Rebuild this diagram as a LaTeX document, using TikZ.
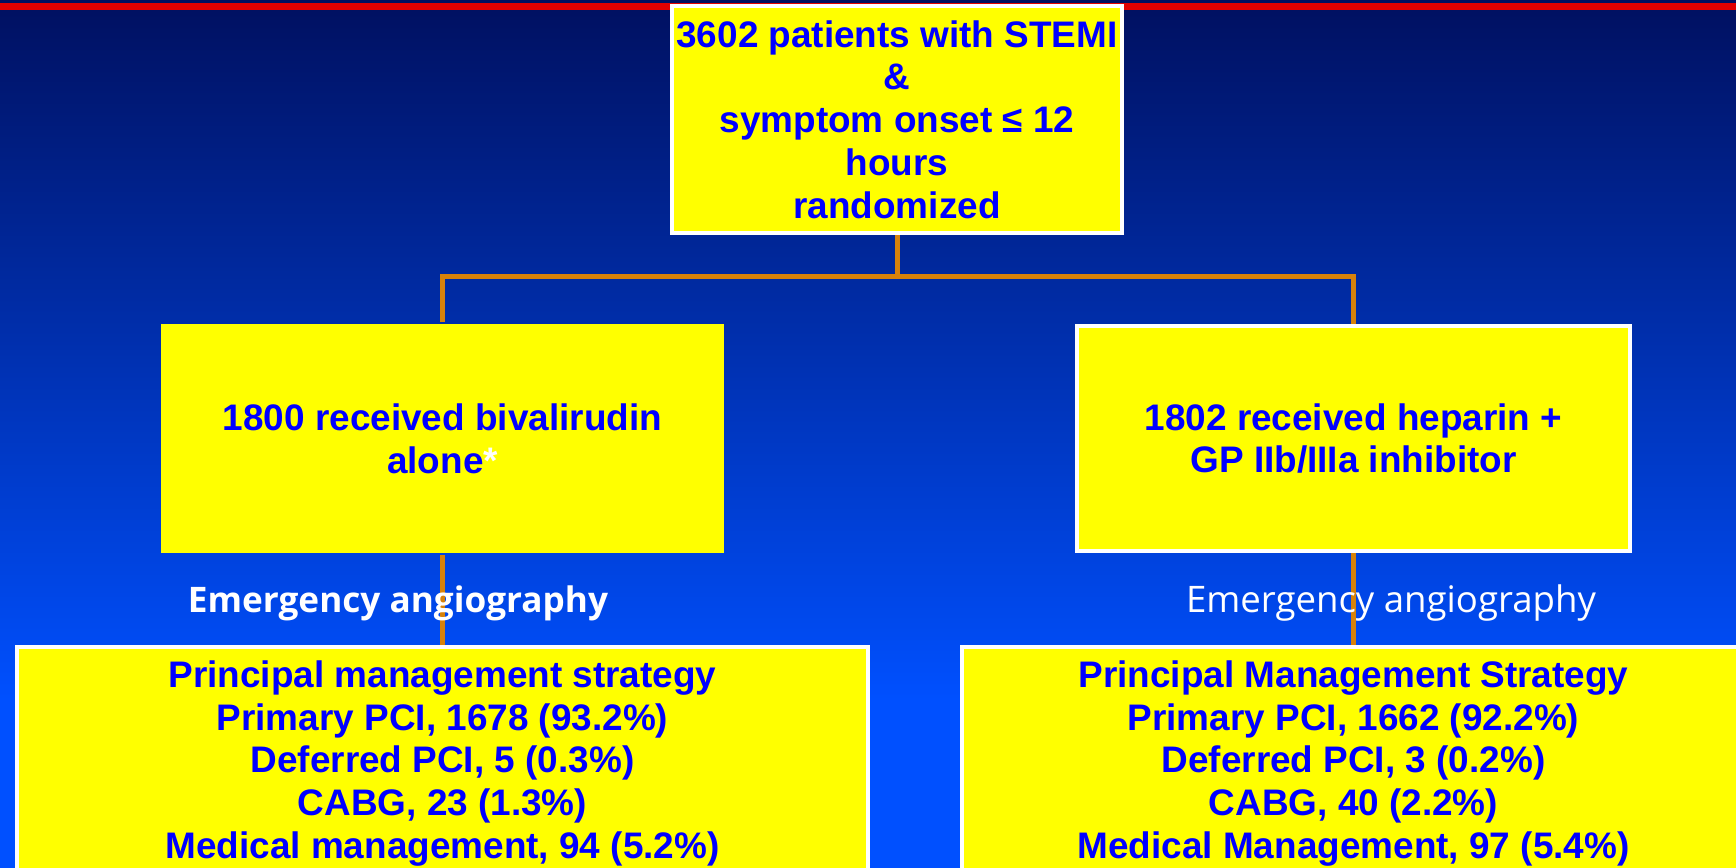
\documentclass[tikz,border=0pt]{standalone}
\usepackage{fontspec}
\setmainfont{Liberation Sans}
\newfontfamily\handfont{Open Sans}
\definecolor{slideNavy}{RGB}{0,16,96}
\definecolor{slideBlue}{RGB}{0,80,255}
\definecolor{ruleRed}{RGB}{225,0,0}
\definecolor{boxYellow}{RGB}{255,255,0}
\definecolor{textBlue}{RGB}{0,0,255}
\definecolor{branchOrange}{RGB}{215,130,10}
\tikzset{
	trialbox/.style={rectangle, draw=white, line width=0.04cm, fill=boxYellow,
		text=textBlue, align=center, inner sep=0pt,
		font=\bfseries\fontsize{10.5}{12.16}\selectfont},
	armbox/.style={trialbox, minimum height=2.25cm},
	planbox/.style={trialbox, anchor=north, inner ysep=0.135cm},
	branchline/.style={draw=branchOrange, line width=0.05cm},
	stagelabel/.style={text=white, anchor=base, inner sep=0pt}
}
\begin{document}
\begin{tikzpicture}[x=0.01cm, y=-0.01cm]
	\clip (0,0) rectangle (1736,868);
	% slide background
	\shade[top color=slideNavy, bottom color=slideBlue] (0,0) rectangle (1736,700);
	\fill[slideBlue] (0,699) rectangle (1736,868);
	\fill[ruleRed] (0,3) rectangle (1736,10);
	% randomization and the two arms
	\node[trialbox, minimum width=4.5cm, minimum height=2.27cm] (trial) at (897,119.5)
		{3602 patients with STEMI\\\&\\symptom onset ≤ 12\\hours\\randomized};
	\coordinate (split) at (897,277);
	\node[armbox, draw=none, minimum width=5.63cm, minimum height=2.29cm] (bival) at (442.5,438.5)
		{1800 received bivalirudin\\alone\textcolor{white}{*}};
	\node[armbox, minimum width=5.53cm] (hepar) at (1353.5,438.5)
		{1802 received heparin +\\GP IIb/IIIa inhibitor};
	\node[planbox, minimum width=8.51cm] (bivalplan) at (442.5,645)
		{Principal management strategy\\Primary PCI, 1678 (93.2\%)\\Deferred PCI, 5 (0.3\%)\\CABG, 23 (1.3\%)\\Medical management, 94 (5.2\%)};
	\node[planbox, minimum width=7.83cm] (heparplan) at (1353.5,645)
		{Principal Management Strategy\\Primary PCI, 1662 (92.2\%)\\Deferred PCI, 3 (0.2\%)\\CABG, 40 (2.2\%)\\Medical Management, 97 (5.4\%)};
	\draw[branchline] (trial.south) -- (split);
	\draw[branchline] (split) -| (bival.north);
	\draw[branchline] (split) -| (hepar.north);
	\draw[branchline] (bival.south) -- (bivalplan.north);
	\draw[branchline] (hepar.south) -- (heparplan.north);
	\node[stagelabel, font=\handfont\bfseries\fontsize{10}{12}\selectfont] (bivalstage) at (398,613) {Emergency angiography};
	\node[stagelabel, font=\handfont\fontsize{10.4}{12.5}\selectfont] (heparstage) at (1391,613) {Emergency angiography};
\end{tikzpicture}
\end{document}
